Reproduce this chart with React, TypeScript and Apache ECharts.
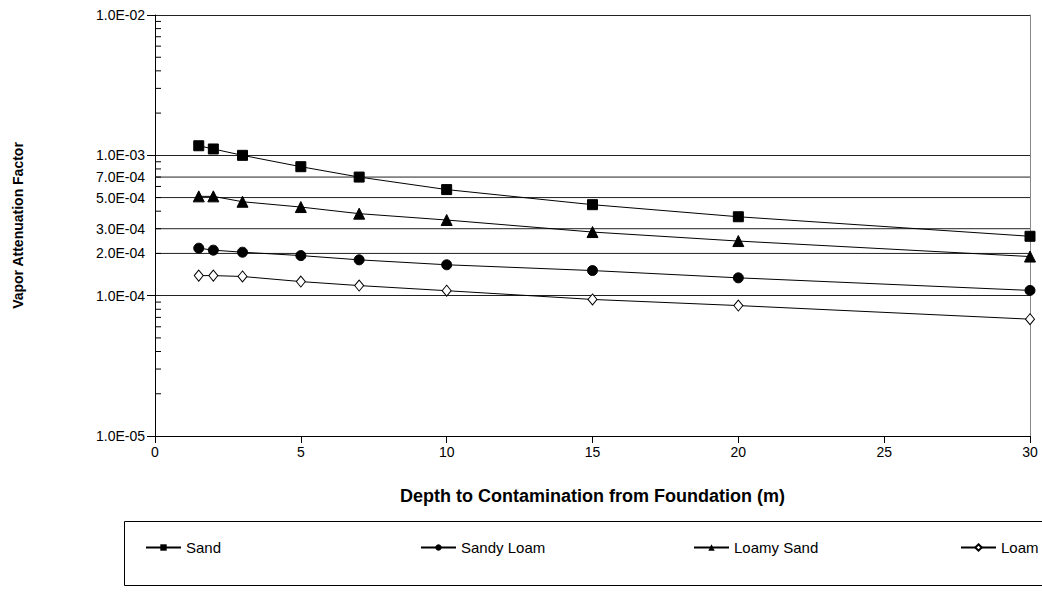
import React, { useEffect, useRef } from "react";
import * as echarts from "echarts";

const depth = [1.5, 2, 3, 5, 7, 10, 15, 20, 30];
const sand = [1.17e-3, 1.11e-3, 1.0e-3, 8.3e-4, 7.0e-4, 5.7e-4, 4.45e-4, 3.65e-4, 2.65e-4];
const sandyLoam = [2.18e-4, 2.11e-4, 2.04e-4, 1.93e-4, 1.8e-4, 1.66e-4, 1.51e-4, 1.34e-4, 1.09e-4];
const loamySand = [5.1e-4, 5.1e-4, 4.67e-4, 4.28e-4, 3.84e-4, 3.46e-4, 2.84e-4, 2.45e-4, 1.9e-4];
const loam = [1.39e-4, 1.39e-4, 1.37e-4, 1.26e-4, 1.18e-4, 1.085e-4, 9.4e-5, 8.5e-5, 6.8e-5];

const seriesNames = ["Sand", "Sandy Loam", "Loamy Sand", "Loam"];
const extraGridValues = [7e-4, 5e-4, 3e-4, 2e-4];
const decades = [1e-5, 1e-4, 1e-3];
const minorMultipliers = [2, 3, 4, 5, 6, 7, 8, 9];

const FONT = "'Liberation Sans', Arial, sans-serif";

function fmtExp(v: number): string {
  const e = Math.floor(Math.log10(v) + 1e-9);
  const m = v / Math.pow(10, e);
  const sign = e < 0 ? "-" : "+";
  return `${m.toFixed(1)}E${sign}${String(Math.abs(e)).padStart(2, "0")}`;
}

export default function App() {
  const ref = useRef<HTMLDivElement>(null);
  useEffect(() => {
    if (!ref.current) return;
    const chart = echarts.init(ref.current, undefined, { renderer: "svg" });
    const toPairs = (ys: number[]) => depth.map((x, i) => [x, ys[i]]);
    const minorTicks: number[][] = [];
    decades.forEach((d) => minorMultipliers.forEach((m) => minorTicks.push([0, d * m])));
    const extraGrid = extraGridValues.map((v) => [0, v]);

    const lineBase = {
      type: "line" as const,
      lineStyle: { color: "#000", width: 1 },
      itemStyle: { color: "#000", borderColor: "#000" },
      z: 3,
    };

    const legendLefts = [145, 420, 693, 960];

    chart.setOption({
      animation: false,
      backgroundColor: "#fff",
      textStyle: { fontFamily: FONT },
      grid: { left: 155, top: 15, width: 875, height: 421, containLabel: false },
      legend: seriesNames.map((n, i) => ({
        data: [n],
        left: legendLefts[i],
        top: 540,
        padding: 0,
        itemWidth: 35,
        itemHeight: 8,
        itemGap: 4,
        textStyle: { fontSize: 15, color: "#000", fontFamily: FONT },
        selectedMode: false,
      })),
      xAxis: {
        type: "value",
        min: 0,
        max: 30,
        interval: 5,
        name: "Depth to Contamination from Foundation (m)",
        nameLocation: "middle",
        nameGap: 51,
        nameTextStyle: { fontSize: 18, fontWeight: "bold", color: "#000", fontFamily: FONT },
        axisLine: { show: true, onZero: false, lineStyle: { color: "#000", width: 1 } },
        axisTick: { show: true, inside: false, length: 7, lineStyle: { color: "#000" } },
        axisLabel: { fontSize: 14, color: "#000", margin: 9, fontFamily: FONT },
        splitLine: { show: false },
      },
      yAxis: [
        {
          type: "log",
          logBase: 10,
          min: 1e-5,
          max: 1e-2,
          name: "Vapor Attenuation Factor",
          nameLocation: "middle",
          nameGap: 130,
          nameRotate: 90,
          nameTextStyle: { fontSize: 14, fontWeight: "bold", color: "#000", fontFamily: FONT },
          axisLine: { show: true, onZero: false, lineStyle: { color: "#000", width: 1 } },
          axisTick: { show: true, inside: false, length: 8, lineStyle: { color: "#000" } },
          axisLabel: {
            fontSize: 14,
            color: "#000",
            margin: 10,
            fontFamily: FONT,
            formatter: (v: number) => fmtExp(v),
          },
          splitLine: { show: true, lineStyle: { color: ["#222", "#222", "#222", "#888"], width: 1 } },
        },
        {
          type: "log",
          logBase: 10,
          min: 1e-5,
          max: 1e-2,
          position: "right",
          axisLine: { show: true, onZero: false, lineStyle: { color: "#888", width: 1 } },
          axisTick: { show: false },
          axisLabel: { show: false },
          splitLine: { show: false },
        },
      ],
      series: [
        {
          name: "extraGrid",
          type: "custom",
          silent: true,
          clip: false,
          z: 1,
          data: extraGrid,
          renderItem: (params: any, api: any) => {
            const v = api.value(1);
            const p = api.coord([api.value(0), v]);
            const cs = params.coordSys;
            return {
              type: "group",
              children: [
                {
                  type: "line",
                  shape: { x1: cs.x, y1: p[1], x2: cs.x + cs.width, y2: p[1] },
                  style: { stroke: "#222", lineWidth: 1 },
                },
                {
                  type: "text",
                  x: cs.x - 10,
                  y: p[1],
                  style: {
                    text: fmtExp(v),
                    align: "right",
                    verticalAlign: "middle",
                    fill: "#000",
                    fontSize: 14,
                    fontFamily: FONT,
                  },
                },
              ],
            };
          },
        },
        {
          name: "minorTicks",
          type: "custom",
          silent: true,
          z: 2,
          data: minorTicks,
          renderItem: (params: any, api: any) => {
            const p = api.coord([api.value(0), api.value(1)]);
            return {
              type: "line",
              shape: { x1: p[0], y1: p[1], x2: p[0] + 6, y2: p[1] },
              style: { stroke: "#000", lineWidth: 1 },
            };
          },
        },
        { ...lineBase, name: "Sand", data: toPairs(sand), symbol: "rect", symbolSize: 10 },
        { ...lineBase, name: "Sandy Loam", data: toPairs(sandyLoam), symbol: "circle", symbolSize: 10 },
        { ...lineBase, name: "Loamy Sand", data: toPairs(loamySand), symbol: "triangle", symbolSize: 11 },
        {
          ...lineBase,
          name: "Loam",
          data: toPairs(loam),
          symbol: "diamond",
          symbolSize: [9, 11],
          itemStyle: { color: "#fff", borderColor: "#000", borderWidth: 1 },
        },
      ],
      graphic: [
        {
          type: "rect",
          left: 122,
          top: 519,
          shape: { width: 960, height: 64 },
          style: { fill: "none", stroke: "#000", lineWidth: 1 },
          silent: true,
        },
      ],
    });
    return () => chart.dispose();
  }, []);
  return (
    <div
      ref={ref}
      style={{ position: "fixed", left: 0, top: 0, width: 1042, height: 612, background: "#fff" }}
    />
  );
}
